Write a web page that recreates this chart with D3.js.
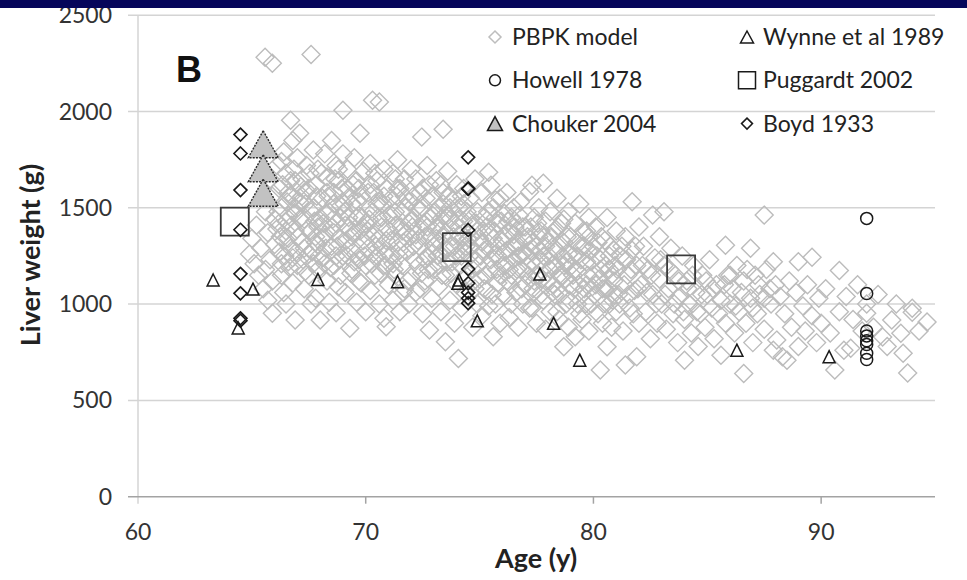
<!DOCTYPE html>
<meta charset="utf-8">
<script src="https://d3js.org/d3.v7.min.js"></script>
<style>
  body { margin: 0; background: #fff; }
</style>
<div id="chart"></div>
<script>
// ---- data (age in years, liver weight in g) ----
var pbpk = [
  [64.9,1260],[65.0,1340],[65.1,1210],[65.2,1410],[65.3,1150],[65.4,1290],[65.6,1480],[65.7,1370],[65.8,1230],[65.9,1120],
  [65.9,1560],[65.5,1080],[65.8,1650],[65.9,952],[66.0,1310],[65.7,1020],[66.0,1440],[65.6,1180],[65.58,2282],[65.9,2250],
  [66.1,1720],[66.2,1600],[66.3,1500],[66.1,1390],[66.2,1270],[66.3,1150],[66.4,1060],[66.4,1790],[66.5,1680],[66.5,1430],
  [66.6,1340],[66.7,1955],[66.6,1220],[66.7,1560],[66.8,1110],[66.9,917],[66.8,1850],[66.9,1470],[66.9,1640],[66.5,1000],
  [66.7,1290],[66.9,1380],
  [67.0,1760],[67.1,1887],[67.1,1530],[67.0,1200],[67.2,1650],[67.2,1320],[67.3,1080],[67.3,1440],[67.4,1720],[67.4,1590],
  [67.5,1260],[67.5,1150],[67.6,2296],[67.6,1380],[67.7,1500],[67.7,1800],[67.8,1030],[67.8,1620],[67.9,1310],[67.9,1700],
  [67.9,1180],[68.0,1450],[68.0,917],[67.6,1000],
  [68.1,1550],[68.1,1240],[68.2,1780],[68.2,1360],[68.3,1120],[68.3,1660],[68.4,1480],[68.4,1010],[68.5,1300],[68.5,1850],
  [68.6,1580],[68.6,1200],[68.7,955],[68.7,1420],[68.7,1720],[68.8,1090],[68.8,1640],[68.9,1340],[68.9,1510],[69.0,2007],
  [69.0,1250],[69.0,1780],[68.9,1150],
  [69.1,1410],[69.1,1060],[69.2,1600],[69.2,1700],[69.3,874],[69.3,1290],[69.4,1520],[69.4,1180],[69.5,1760],[69.5,1370],
  [69.6,1010],[69.6,1640],[69.7,1460],[69.75,1887],[69.7,1230],[69.8,1110],[69.8,1560],[69.9,1330],[69.9,1690],[70.0,1420],
  [70.0,960],[70.0,1200],
  [70.1,1580],[70.1,1290],[70.2,1730],[70.2,1070],[70.3,2059],[70.3,1480],[70.4,1360],[70.4,1150],[70.5,1640],[70.5,1250],
  [70.6,2049],[70.6,1530],[70.6,1000],[70.7,1400],[70.8,927],[70.8,1700],[70.8,1200],[70.9,882],[70.9,1330],[70.9,1600],
  [71.0,1460],[71.0,1100],
  [71.1,1550],[71.1,1250],[71.2,1680],[71.2,1020],[71.3,1410],[71.3,1150],[71.4,1750],[71.4,1320],[71.5,1600],[71.5,960],
  [71.6,1480],[71.6,1200],[71.7,1080],[71.7,1650],[71.8,1370],[71.8,1270],[71.9,1530],[71.9,1000],[72.0,1430],[72.0,1140],
  [72.0,1700],
  [72.1,1560],[72.1,1300],[72.2,1060],[72.2,1650],[72.3,1400],[72.3,1200],[72.46,1867],[72.4,1490],[72.5,950],[72.5,1600],
  [72.6,1350],[72.6,1120],[72.7,1720],[72.7,1250],[72.8,865],[72.8,1450],[72.9,1030],[72.9,1560],[73.0,1300],[73.0,1180],
  [73.1,1640],[73.1,1400],[73.2,1090],[73.2,1500],[73.3,1260],[73.3,960],[73.4,1908],[73.4,1580],[73.4,1350],[73.5,805],
  [73.5,1150],[73.6,1460],[73.6,1690],[73.7,1020],[73.7,1300],[73.8,1540],[73.8,1220],[73.9,900],[73.9,1420],[74.0,1100],
  [74.0,1620],
  [74.07,718],[74.1,1360],[74.1,1500],[74.2,1250],[74.2,980],[74.3,1600],[74.3,1430],[74.4,1150],[74.4,1300],[74.6,1550],
  [74.6,1060],[74.7,1400],[74.7,880],[74.8,1230],[74.8,1650],[74.9,1480],[74.9,1000],[75.0,1340],[75.0,1130],
  [75.1,1580],[75.1,940],[75.2,1280],[75.2,1450],[75.3,1070],[75.4,1685],[75.4,1370],[75.5,1617],[75.5,1180],[75.6,830],
  [75.6,1500],[75.7,1000],[75.7,1260],[75.8,1420],[75.8,1110],[75.9,1550],[75.9,900],[76.0,1330],[76.0,1200],
  [76.1,1470],[76.1,1040],[76.2,1280],[76.2,1580],[76.3,930],[76.3,1380],[76.4,1150],[76.5,1500],[76.5,1230],[76.6,1060],
  [76.6,1420],[76.7,880],[76.7,1320],[76.8,1180],[76.8,1530],[76.9,1000],[76.9,1260],[77.0,1400],[77.0,1100],
  [77.1,1350],[77.2,1583],[77.2,980],[77.3,1617],[77.3,1220],[77.4,1450],[77.4,1060],[77.5,1300],[77.5,900],[77.6,1150],
  [77.6,1500],[77.7,1380],[77.8,1628],[77.8,1020],[77.8,1250],[77.9,1430],[77.9,870],[78.0,1120],[78.0,1330],
  [78.1,1480],[78.1,960],[78.2,1200],[78.3,1380],[78.3,1050],[78.4,1550],[78.4,1280],[78.5,920],[78.6,1140],[78.6,1420],
  [78.7,778],[78.7,1320],[78.8,1000],[78.8,1220],[78.9,1480],[78.9,880],[79.0,1100],[79.0,1350],
  [79.1,1250],[79.2,830],[79.2,1420],[79.3,1000],[79.3,1170],[79.4,1520],[79.5,1300],[79.5,920],[79.6,1080],[79.7,1380],
  [79.7,1220],[79.8,860],[79.8,1450],[79.9,1000],[80.0,1150],[80.0,1300],
  [80.1,1400],[80.2,950],[80.3,658],[80.3,1230],[80.4,1080],[80.5,1330],[80.6,778],[80.6,1450],[80.7,1000],[80.7,1180],
  [80.8,880],[80.9,1280],[80.9,1120],[81.0,1380],[81.0,960],
  [81.1,1050],[81.2,1250],[81.3,860],[81.4,684],[81.4,1350],[81.5,1150],[81.6,980],[81.7,1531],[81.7,1280],[81.8,1070],
  [81.9,727],[81.9,1200],[82.0,900],[82.0,1400],
  [82.1,1100],[82.2,1300],[82.3,960],[82.4,1180],[82.5,820],[82.6,1462],[82.6,1050],[82.7,1240],[82.8,900],[82.9,1350],
  [82.9,1130],[83.0,1000],
  [83.1,1479],[83.1,1200],[83.2,870],[83.3,1080],[83.4,1290],[83.5,950],[83.6,1150],[83.7,800],[83.8,1040],[83.9,1250],
  [84.0,709],[84.0,920],
  [84.1,1120],[84.2,1000],[84.3,850],[84.4,1200],[84.5,1060],[84.6,780],[84.7,950],[84.8,1150],[84.9,880],[85.0,1050],
  [85.1,1230],[85.2,980],[85.3,820],[85.4,1100],[85.6,735],[85.6,1020],[85.8,1306],[85.8,900],[85.9,1150],[86.0,1000],
  [86.1,1080],[86.2,850],[86.3,1200],[86.4,960],[86.6,640],[86.6,1120],[86.7,900],[86.9,1290],[86.9,1030],[87.0,800],
  [87.1,1150],[87.2,950],[87.3,1050],[87.5,1462],[87.5,870],[87.6,1180],[87.8,1000],[87.9,1220],[87.9,760],[88.0,1100],
  [88.05,813],[88.2,1040],[88.3,727],[88.4,950],[88.5,709],[88.6,1120],[88.7,880],[88.9,1060],[89.0,1220],[89.0,780],
  [89.2,990],[89.3,860],[89.4,1100],[89.6,1243],[89.6,940],[89.8,800],[89.9,1030],[90.0,900],
  [90.2,1080],[90.4,850],[90.6,658],[90.8,1175],[90.8,960],[91.0,760],[91.1,1040],[91.3,771],[91.4,920],[91.6,1100],
  [91.8,860],[92.0,953],[92.0,1000],
  [92.3,880],[92.5,1050],[92.7,829],[92.9,780],[93.1,917],[93.3,1000],[93.5,849],[93.6,745],[93.8,642],[94.0,958],
  [94.0,979],[94.3,860],[94.65,907],
  // dense core of the cloud
  [66.15,1480],[66.25,1350],[66.35,1620],[66.45,1250],[66.55,1530],[66.65,1190],[66.75,1410],[66.85,1700],[66.95,1270],[66.3,1740],[66.6,1460],[66.85,1550],
  [67.05,1350],[67.15,1610],[67.25,1230],[67.35,1520],[67.45,1390],[67.55,1680],[67.65,1270],[67.75,1430],[67.85,1560],[67.95,1250],[67.35,1170],[67.8,1350],
  [68.05,1680],[68.15,1420],[68.25,1290],[68.35,1560],[68.45,1190],[68.55,1440],[68.65,1650],[68.75,1300],[68.85,1230],[68.95,1600],[68.3,1470],[68.6,1370],
  [69.05,1520],[69.15,1330],[69.25,1450],[69.35,1160],[69.45,1620],[69.55,1260],[69.65,1530],[69.75,1380],[69.85,1450],[69.95,1250],[69.3,1380],[69.7,1120],
  [70.05,1350],[70.15,1440],[70.25,1210],[70.35,1580],[70.45,1300],[70.55,1450],[70.65,1160],[70.75,1520],[70.85,1260],[70.95,1390],[70.4,1680],[70.7,1300],
  [71.05,1380],[71.15,1460],[71.25,1180],[71.35,1560],[71.45,1250],[71.55,1400],[71.65,1320],[71.75,1500],[71.85,1120],[71.95,1350],[71.3,1650],[71.65,1060],
  [72.05,1400],[72.15,1230],[72.25,1500],[72.35,1300],[72.45,1160],[72.55,1420],[72.65,1550],[72.75,1180],[72.85,1350],[72.95,1460],[72.4,1080],[72.8,1620],
  [73.05,1480],[73.15,1250],[73.25,1380],[73.35,1150],[73.45,1460],[73.55,1280],[73.65,1560],[73.75,1160],[73.85,1350],[73.95,1250],[73.3,1620],[73.7,1440],
  [74.05,1400],[74.15,1200],[74.25,1340],[74.35,1060],[74.45,1480],[74.55,1250],[74.65,1350],[74.75,1120],[74.85,1420],[74.95,1200],[74.3,1520],[74.6,1440],
  [75.05,1250],[75.15,1380],[75.25,1150],[75.35,1480],[75.45,1280],[75.55,1050],[75.65,1380],[75.75,1180],[75.85,1300],[75.95,1430],[75.4,990],[75.7,1540],
  [76.05,1350],[76.15,1200],[76.25,1430],[76.35,1100],[76.45,1300],[76.55,1400],[76.65,1180],[76.75,1460],[76.85,1080],[76.95,1340],[76.4,1000],[76.8,1250],
  [77.05,1250],[77.15,1150],[77.25,1400],[77.35,1080],[77.45,1200],[77.55,1420],[77.65,1280],[77.75,1130],[77.85,1350],[77.95,1200],[77.3,980],[77.7,1050],
  [78.05,1250],[78.15,1350],[78.25,1100],[78.35,1200],[78.45,1400],[78.55,1050],[78.65,1250],[78.75,1130],[78.85,1350],[78.95,1020],[78.4,960],[78.7,1440],
  [79.05,1200],[79.15,1080],[79.25,1320],[79.35,1100],[79.45,1230],[79.55,1380],[79.65,1000],[79.75,1150],[79.85,1280],[79.95,1090],[79.4,950],[79.8,1350],
  [80.05,1050],[80.15,1250],[80.25,1130],[80.35,1350],[80.45,1000],[80.55,1200],[80.65,1080],[80.75,1300],[80.85,1020],[80.95,1200],[80.4,900],[80.8,1150],
  [81.05,1180],[81.15,1000],[81.25,1300],[81.35,1100],[81.45,1230],[81.55,1050],[81.65,1180],[81.75,950],[81.85,1300],[81.95,1080],
  [82.15,1200],[82.35,1060],[82.55,1150],[82.75,1000],[82.95,1230],[83.15,1050],[83.35,1180],[83.55,1000],[83.75,1120],[83.95,960],
  [84.15,1080],[84.35,1150],[84.55,960],[84.75,1050],[84.95,1120],
  [85.25,1080],[85.5,950],[85.75,1100],[86.0,1150],[86.25,990],[86.5,1060],[86.75,1180],[87.0,980],[87.25,1100],[87.5,1030],[87.75,1080],
  [66.2,1420],[66.4,1330],[66.6,1580],[66.8,1240],[66.3,1210],[66.7,1640],[66.5,1380],[66.9,1500],
  [67.1,1440],[67.3,1290],[67.5,1600],[67.7,1210],[67.9,1400],[67.2,1560],[67.6,1480],[67.8,1320],
  [68.1,1340],[68.3,1580],[68.5,1400],[68.7,1250],[68.9,1450],[68.2,1210],[68.6,1520],[68.8,1700],
  [69.1,1480],[69.3,1560],[69.5,1220],[69.7,1600],[69.9,1400],[69.2,1250],[69.6,1450],[69.4,1350],
  [70.1,1380],[70.3,1260],[70.5,1520],[70.7,1450],[70.9,1200],[70.2,1620],[70.6,1340],[70.8,1560],
  [71.1,1330],[71.3,1480],[71.5,1280],[71.7,1560],[71.9,1420],[71.2,1210],[71.6,1380],[71.4,1600],
  [72.1,1450],[72.3,1330],[72.5,1500],[72.7,1400],[72.9,1260],[72.2,1360],[72.6,1230],[72.4,1580],
  [73.1,1340],[73.3,1440],[73.5,1370],[73.7,1500],[73.9,1300],[73.2,1200],[73.6,1220],[73.4,1520],
  [74.1,1440],[74.3,1280],[74.5,1340],[74.7,1180],[74.9,1380],[74.2,1560],[74.6,1300],[74.8,1080],
  [75.1,1320],[75.3,1400],[75.5,1230],[75.7,1450],[75.9,1150],[75.2,1080],[75.6,1340],[75.8,1250],
  [76.1,1270],[76.3,1180],[76.5,1360],[76.7,1250],[76.9,1400],[76.2,1120],[76.6,1300],[76.4,1450],
  [77.1,1200],[77.3,1320],[77.5,1150],[77.7,1220],[77.9,1300],[77.2,1280],[77.6,1350],[77.4,1120],
  [78.1,1180],[78.3,1290],[78.5,1150],[78.7,1200],[78.9,1260],[78.2,1060],[78.6,1330],[78.4,1080],
  [79.1,1150],[79.3,1250],[79.5,1050],[79.7,1100],[79.9,1220],[79.2,1180],[79.6,1300],
  [80.1,1100],[80.3,1180],[80.5,1080],[80.7,1250],[80.9,1050],[80.2,1320]
];
var wynne = [[63.3,1125],[65.05,1078],[64.4,876],[67.9,1128],[71.4,1116],[74.05,1108],[74.1,1125],[74.9,913],
             [77.65,1156],[78.25,900],[79.4,709],[86.3,761],[90.35,727]];
var howell = [[92,1445],[92,1055],[92,860],[92,835],[92,810],[92,790],[92,745],[92,712]];
var chouker = [[65.5,1830],[65.5,1705],[65.5,1578]];
var puggaardt = [[64.25,1428],[74.0,1296],[83.85,1180]];
var boyd = [[64.5,1880],[64.5,1782],[64.5,1592],[64.5,1386],[64.5,1157],[64.5,1056],[64.5,926],[64.5,914],
            [74.5,1762],[74.5,1600],[74.5,1598],[74.5,1385],[74.5,1182],[74.5,1108],[74.5,1060],[74.5,1030],[74.5,1005]];
var xTicks = [60, 70, 80, 90];
var yTicks = [0, 500, 1000, 1500, 2000, 2500];
var legendNames = ["PBPK model", "Wynne et al 1989", "Howell 1978", "Puggardt 2002", "Chouker 2004", "Boyd 1933"];

// ---- layout ----
var width = 967, height = 580;
var svg = d3.select("#chart").append("svg")
    .attr("width", width).attr("height", height)
    .style("font-family", "Lato, 'Open Sans', sans-serif");

var x = d3.scaleLinear().domain([60, 95]).range([138, 935]);
var y = d3.scaleLinear().domain([0, 2500]).range([496.7, 15.2]);

// marker shapes
function diamond(r) { return "M0," + (-r) + "L" + r + ",0L0," + r + "L" + (-r) + ",0Z"; }
function triangle(w, h) { return "M0," + (-h / 2) + "L" + (w / 2) + "," + (h / 2) + "L" + (-w / 2) + "," + (h / 2) + "Z"; }
function square(s) { return "M" + (-s / 2) + "," + (-s / 2) + "h" + s + "v" + s + "h" + (-s) + "Z"; }

// gridlines + left ticks
svg.append("g").selectAll("line")
    .data(yTicks.filter(function (d) { return d > 0; }))
    .enter().append("line")
    .attr("x1", 128).attr("x2", x(95))
    .attr("y1", function (d) { return y(d); }).attr("y2", function (d) { return y(d); })
    .attr("stroke", "#d4d4d4").attr("stroke-width", 1.5);

// y axis line
svg.append("line")
    .attr("x1", x(60)).attr("x2", x(60)).attr("y1", y(2500)).attr("y2", y(0) + 7)
    .attr("stroke", "#d4d4d4").attr("stroke-width", 1.5);

// x axis line
svg.append("line")
    .attr("x1", 128).attr("x2", x(95)).attr("y1", y(0)).attr("y2", y(0))
    .attr("stroke", "#a3a3a3").attr("stroke-width", 1.5);
svg.append("g").selectAll("line")
    .data(xTicks.slice(1)).enter().append("line")
    .attr("x1", function (d) { return x(d); }).attr("x2", function (d) { return x(d); })
    .attr("y1", y(0)).attr("y2", y(0) + 7)
    .attr("stroke", "#a3a3a3").attr("stroke-width", 1.5);

// tick labels
svg.append("g").selectAll("text")
    .data(yTicks).enter().append("text")
    .attr("x", 112).attr("y", function (d) { return y(d) + 8; })
    .attr("text-anchor", "end").attr("font-size", 23).attr("fill", "#333")
    .text(function (d) { return d; });
svg.append("g").selectAll("text")
    .data(xTicks).enter().append("text")
    .attr("x", function (d) { return x(d); }).attr("y", 540)
    .attr("text-anchor", "middle").attr("font-size", 23).attr("fill", "#333")
    .text(function (d) { return d; });

// axis titles
svg.append("text")
    .attr("x", 536).attr("y", 568).attr("text-anchor", "middle")
    .attr("font-size", 27).attr("font-weight", "bold").attr("fill", "#222")
    .text("Age (y)");
svg.append("text")
    .attr("transform", "translate(40,255) rotate(-90)").attr("text-anchor", "middle")
    .attr("font-size", 27).attr("font-weight", "bold").attr("fill", "#222")
    .text("Liver weight (g)");

// panel letter
svg.append("text")
    .attr("x", 176).attr("y", 82)
    .attr("font-family", "'Liberation Sans', Arial, sans-serif")
    .attr("font-size", 36).attr("font-weight", "bold").attr("fill", "#111")
    .text("B");

// PBPK model points
svg.append("g").selectAll("path")
    .data(pbpk).enter().append("path")
    .attr("transform", function (d) { return "translate(" + x(d[0]) + "," + y(d[1]) + ")"; })
    .attr("d", diamond(9))
    .attr("fill", "none").attr("stroke", "#bcbcbc").attr("stroke-width", 1.4);

// Puggardt squares
svg.append("g").selectAll("path")
    .data(puggaardt).enter().append("path")
    .attr("transform", function (d) { return "translate(" + x(d[0]) + "," + y(d[1]) + ")"; })
    .attr("d", square(28))
    .attr("fill", "none").attr("stroke", "#3a3a3a").attr("stroke-width", 1.8);

// Chouker triangles
svg.append("g").selectAll("path")
    .data(chouker).enter().append("path")
    .attr("transform", function (d) { return "translate(" + x(d[0]) + "," + y(d[1]) + ")"; })
    .attr("d", triangle(30, 27))
    .attr("fill", "#c2c2c2").attr("stroke", "#2a2a2a").attr("stroke-width", 1.4)
    .attr("stroke-dasharray", "2,1.2");

// Wynne triangles
svg.append("g").selectAll("path")
    .data(wynne).enter().append("path")
    .attr("transform", function (d) { return "translate(" + x(d[0]) + "," + y(d[1]) + ")"; })
    .attr("d", triangle(12, 12))
    .attr("fill", "none").attr("stroke", "#1a1a1a").attr("stroke-width", 1.5);

// Howell circles
svg.append("g").selectAll("circle")
    .data(howell).enter().append("circle")
    .attr("cx", function (d) { return x(d[0]); }).attr("cy", function (d) { return y(d[1]); })
    .attr("r", 6)
    .attr("fill", "none").attr("stroke", "#1a1a1a").attr("stroke-width", 1.5);

// Boyd diamonds
svg.append("g").selectAll("path")
    .data(boyd).enter().append("path")
    .attr("transform", function (d) { return "translate(" + x(d[0]) + "," + y(d[1]) + ")"; })
    .attr("d", diamond(6.5))
    .attr("fill", "none").attr("stroke", "#1a1a1a").attr("stroke-width", 1.6);

// legend
var legendSymbols = [
  {d: diamond(6), fill: "none", stroke: "#bdbdbd"},
  {d: triangle(13, 12), fill: "none", stroke: "#1a1a1a"},
  {circle: 5.5, fill: "none", stroke: "#1a1a1a"},
  {d: square(17), fill: "none", stroke: "#1a1a1a"},
  {d: triangle(15, 14), fill: "#c2c2c2", stroke: "#1a1a1a"},
  {d: diamond(5.5), fill: "none", stroke: "#1a1a1a"}
];
var legend = svg.append("g").selectAll("g")
    .data(legendNames).enter().append("g")
    .attr("transform", function (d, i) {
        return "translate(" + (i % 2 === 0 ? 495 : 747) + "," + (37 + Math.floor(i / 2) * 43.3) + ")";
    });
legend.each(function (d, i) {
    var g = d3.select(this), s = legendSymbols[i];
    if (s.circle) {
        g.append("circle").attr("r", s.circle).attr("fill", s.fill).attr("stroke", s.stroke).attr("stroke-width", 1.5);
    } else {
        g.append("path").attr("d", s.d).attr("fill", s.fill).attr("stroke", s.stroke).attr("stroke-width", 1.5);
    }
    g.append("text").attr("x", i % 2 === 0 ? 17 : 16).attr("y", 8)
        .attr("font-size", 23).attr("fill", "#222").text(d);
});

// top band
svg.append("rect").attr("x", 0).attr("y", 0).attr("width", width).attr("height", 8).attr("fill", "#06065a");
</script>
